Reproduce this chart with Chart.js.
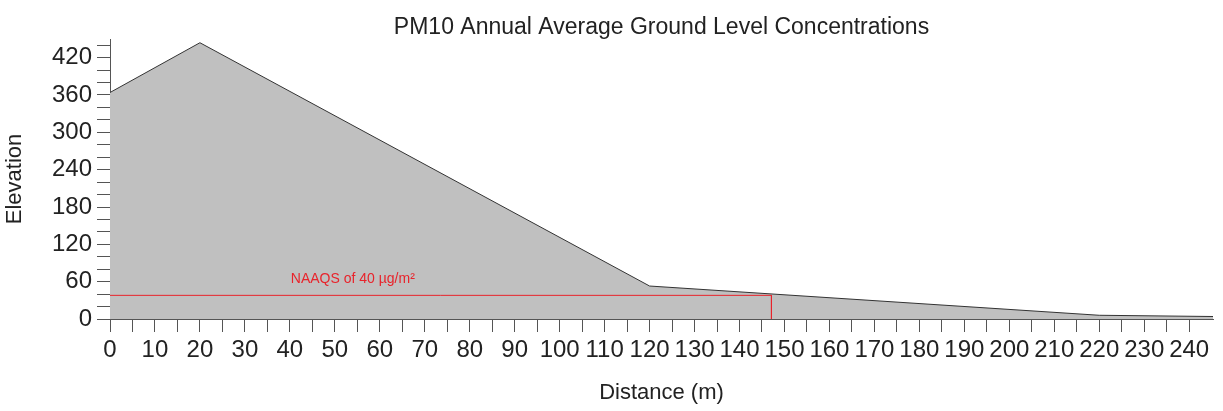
<!DOCTYPE html>
<html>
<head>
<meta charset="utf-8">
<script src="https://cdn.jsdelivr.net/npm/chart.js@4/dist/chart.umd.min.js"></script>
<style>
html,body{margin:0;padding:0;background:#fff;}
#wrap{width:1223px;height:411px;position:relative;}
</style>
</head>
<body>
<div id="wrap"><canvas id="c"></canvas></div>
<script>
// Terrain profile (distance m, elevation)
const distances = [0, 20, 120, 220, 245.3];
const elevations = [364, 444, 53, 6, 4];
// NAAQS reference line
const naaqsDistance = 147.1;
const naaqsLevel = 38;
const naaqsLabel = 'NAAQS of 40 µg/m²';
const naaqsLabelX = 54;
const chartTitle = 'PM10 Annual Average Ground Level Concentrations';
const xTitle = 'Distance (m)';
const yTitle = 'Elevation';
const xTickStep = 5, xLabelStep = 10, xMax = 245.3, xLastTick = 240;
const yTickStep = 20, yLabelStep = 60, yMax = 450;

const FONT = "'Liberation Sans', Arial, sans-serif";

const terrain = distances.map((d, i) => ({x: d, y: elevations[i]}));
const naaqsLine = [{x: 0, y: naaqsLevel}, {x: naaqsDistance, y: naaqsLevel}, {x: naaqsDistance, y: 0}];

const labelPlugin = {
  id: 'naaqsLabel',
  afterDatasetsDraw(chart) {
    const {ctx, scales} = chart;
    const x = scales.x.getPixelForValue(naaqsLabelX);
    const y = scales.y.getPixelForValue(naaqsLevel);
    ctx.save();
    ctx.font = '14px ' + FONT;
    ctx.fillStyle = '#e8232b';
    ctx.textAlign = 'center';
    ctx.textBaseline = 'middle';
    ctx.fillText(naaqsLabel, x, y - 16);
    ctx.restore();
  }
};

new Chart(document.getElementById('c'), {
  type: 'line',
  data: {
    datasets: [
      {
        data: terrain,
        order: 2,
        fill: 'origin',
        backgroundColor: '#c0c0c0',
        borderColor: '#333333',
        borderWidth: 1,
        pointRadius: 0,
        tension: 0
      },
      {
        data: naaqsLine,
        order: 1,
        fill: false,
        borderColor: '#e8232b',
        borderWidth: 1,
        pointRadius: 0,
        tension: 0
      }
    ]
  },
  options: {
    responsive: true,
    maintainAspectRatio: false,
    animation: false,
    layout: {padding: {top: 0, right: 10, bottom: 0, left: 0}},
    plugins: {
      legend: {display: false},
      tooltip: {enabled: false},
      title: {
        display: true,
        fullSize: false,
        text: chartTitle,
        color: '#222',
        font: {family: FONT, size: 23, weight: 'normal', lineHeight: 1.0},
        padding: {top: 16, bottom: 0}
      }
    },
    scales: {
      x: {
        type: 'linear',
        min: 0,
        max: xMax,
        afterBuildTicks: (axis) => { axis.ticks = axis.ticks.filter(t => t.value <= xLastTick); },
        afterFit: (scale) => { scale.height = 92; },
        ticks: {
          stepSize: xTickStep,
          includeBounds: false,
          autoSkip: false,
          maxRotation: 0,
          minRotation: 0,
          padding: 4,
          color: '#222',
          font: {family: FONT, size: 24},
          callback: (v) => (v % xLabelStep === 0 ? String(v) : '')
        },
        grid: {display: true, drawOnChartArea: false, drawTicks: true, tickLength: 13, color: '#555', lineWidth: 1},
        border: {display: true, color: '#555', width: 1},
        title: {
          display: true,
          text: xTitle,
          color: '#222',
          font: {family: FONT, size: 22},
          padding: {top: 0, bottom: 5}
        }
      },
      y: {
        type: 'linear',
        min: 0,
        max: yMax,
        afterFit: (scale) => { scale.width = 110; },
        ticks: {
          stepSize: yTickStep,
          includeBounds: false,
          autoSkip: false,
          padding: 5,
          color: '#222',
          font: {family: FONT, size: 24},
          callback: (v) => (v % yLabelStep === 0 ? String(v) : '')
        },
        grid: {display: true, drawOnChartArea: false, drawTicks: true, tickLength: 13, color: '#555', lineWidth: 1},
        border: {display: true, color: '#555', width: 1},
        title: {
          display: true,
          text: yTitle,
          color: '#222',
          font: {family: FONT, size: 22},
          padding: {top: 2, bottom: 0}
        }
      }
    }
  },
  plugins: [labelPlugin]
});
</script>
</body>
</html>
